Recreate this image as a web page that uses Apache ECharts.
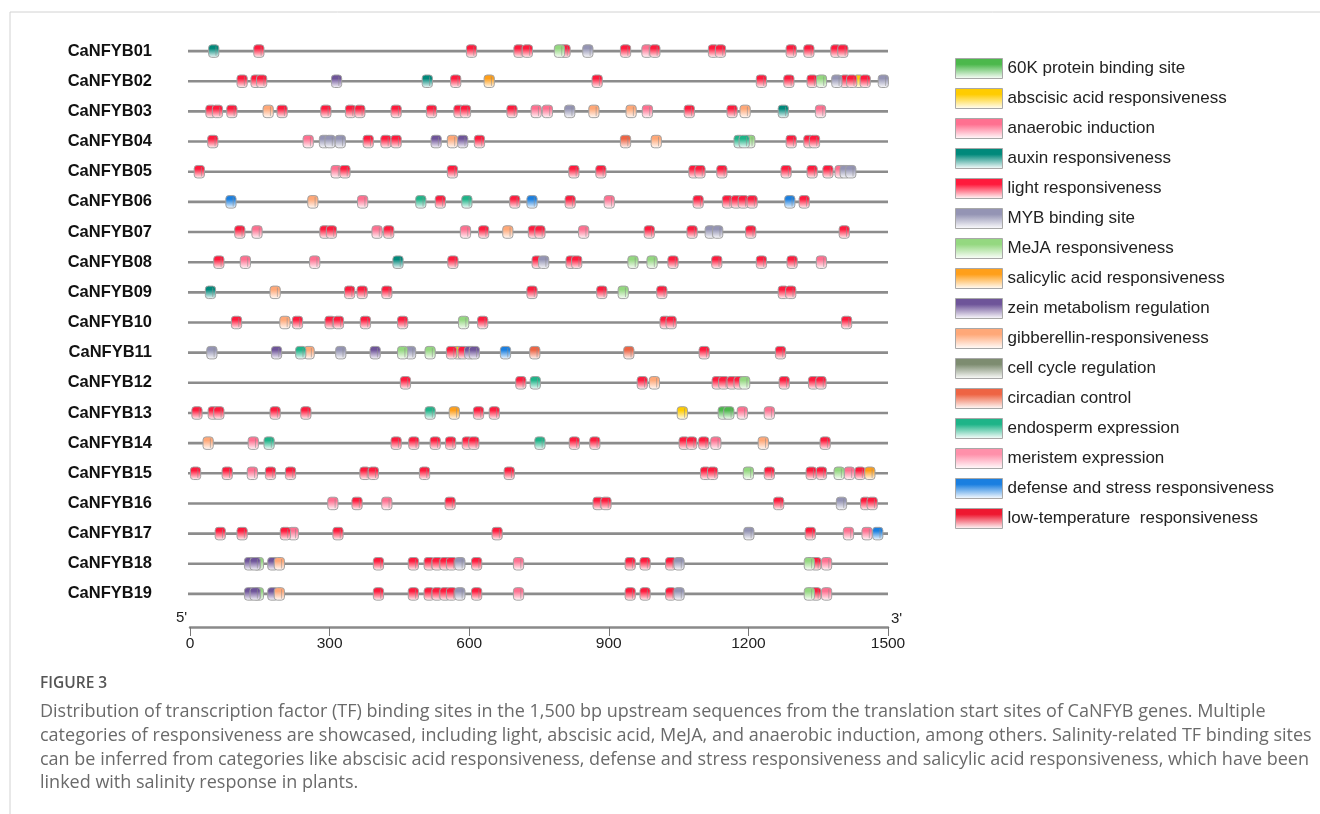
<!DOCTYPE html>
<html>
<head>
<meta charset="utf-8">
<script src="https://cdn.jsdelivr.net/npm/echarts@6/dist/echarts.min.js"></script>
<style>
html,body{margin:0;padding:0;background:#fff;}
#chart{width:1320px;height:814px;}
</style>
</head>
<body>
<div id="chart"></div>
<script>
// ---------- data ----------
const genes = ['CaNFYB01','CaNFYB02','CaNFYB03','CaNFYB04','CaNFYB05','CaNFYB06','CaNFYB07','CaNFYB08','CaNFYB09','CaNFYB10',
               'CaNFYB11','CaNFYB12','CaNFYB13','CaNFYB14','CaNFYB15','CaNFYB16','CaNFYB17','CaNFYB18','CaNFYB19'];
const xTicks = [0, 300, 600, 900, 1200, 1500];
const SEQ_LEN = 1500;

const catKeys  = ['K60','ABA','ANA','AUX','LIT','MYB','MEJ','SAL','ZEI','GA','CC','CIR','END','MER','DEF','LT'];
const catNames = ['60K protein binding site','abscisic acid responsiveness','anaerobic induction','auxin responsiveness',
                  'light responsiveness','MYB binding site','MeJA responsiveness','salicylic acid responsiveness',
                  'zein metabolism regulation','gibberellin-responsiveness','cell cycle regulation','circadian control',
                  'endosperm expression','meristem expression','defense and stress responsiveness','low-temperature  responsiveness'];
const catColors = ['#4cb84c','#ffcc00','#ff7090','#00897b','#ff1a3c','#9494b4','#94d880','#ff9f1a',
                   '#6e5499','#ffa878','#7d8c70','#ee6444','#1eb488','#ff90aa','#1a7fe0','#ee1830'];

// binding sites per gene: [position (bp), category]
const CaNFYB01 = [[51,'AUX'],[148,'LIT'],[605,'LIT'],[707,'LIT'],[725,'LIT'],[794,'MEJ'],[806,'LIT'],[855,'MYB'],[936,'LIT'],[982,'ANA'],[999,'LIT'],[1125,'LIT'],[1140,'LIT'],[1292,'LIT'],[1330,'LIT'],[1388,'LIT'],[1403,'LIT']];
const CaNFYB02 = [[112,'LIT'],[142,'LIT'],[154,'LIT'],[315,'ZEI'],[510,'AUX'],[571,'LIT'],[643,'SAL'],[875,'LIT'],[1228,'LIT'],[1287,'LIT'],[1337,'LIT'],[1357,'MEJ'],[1390,'MYB'],[1408,'LIT'],[1422,'LIT'],[1437,'ABA'],[1451,'LIT'],[1490,'MYB']];
const CaNFYB03 = [[45,'LIT'],[59,'LIT'],[90,'LIT'],[168,'GA'],[198,'LIT'],[292,'LIT'],[345,'LIT'],[365,'LIT'],[443,'LIT'],[519,'LIT'],[578,'LIT'],[592,'LIT'],[692,'LIT'],[744,'ANA'],[768,'ANA'],[816,'MYB'],[868,'GA'],[948,'GA'],[983,'ANA'],[1073,'LIT'],[1165,'LIT'],[1193,'GA'],[1275,'AUX'],[1355,'ANA']];
const CaNFYB04 = [[49,'LIT'],[254,'ANA'],[289,'MYB'],[301,'MYB'],[323,'MYB'],[383,'LIT'],[421,'LIT'],[443,'LIT'],[529,'ZEI'],[564,'GA'],[586,'ZEI'],[622,'LIT'],[936,'CIR'],[1002,'GA'],[1180,'END'],[1191,'END'],[1203,'MEJ'],[1292,'LIT'],[1330,'LIT'],[1342,'LIT']];
const CaNFYB05 = [[20,'LIT'],[314,'ANA'],[333,'LIT'],[564,'LIT'],[825,'LIT'],[883,'LIT'],[1083,'LIT'],[1096,'LIT'],[1143,'LIT'],[1281,'LIT'],[1337,'LIT'],[1371,'LIT'],[1397,'ANA'],[1408,'MYB'],[1420,'MYB']];
const CaNFYB06 = [[88,'DEF'],[264,'GA'],[371,'ANA'],[496,'END'],[538,'LIT'],[595,'END'],[698,'LIT'],[735,'DEF'],[817,'LIT'],[901,'ANA'],[1092,'LIT'],[1155,'LIT'],[1174,'LIT'],[1189,'LIT'],[1208,'LIT'],[1289,'DEF'],[1320,'LIT']];
const CaNFYB07 = [[107,'LIT'],[144,'ANA'],[290,'LIT'],[304,'LIT'],[402,'ANA'],[427,'LIT'],[592,'ANA'],[631,'LIT'],[683,'GA'],[738,'LIT'],[752,'LIT'],[846,'ANA'],[987,'LIT'],[1079,'LIT'],[1118,'MYB'],[1134,'MYB'],[1205,'LIT'],[1406,'LIT']];
const CaNFYB08 = [[62,'LIT'],[119,'ANA'],[268,'ANA'],[447,'AUX'],[565,'LIT'],[746,'LIT'],[760,'MYB'],[819,'LIT'],[831,'LIT'],[952,'MEJ'],[993,'MEJ'],[1038,'LIT'],[1132,'LIT'],[1228,'LIT'],[1294,'LIT'],[1357,'ANA']];
const CaNFYB09 = [[44,'AUX'],[183,'GA'],[343,'LIT'],[370,'LIT'],[423,'LIT'],[735,'LIT'],[885,'LIT'],[931,'MEJ'],[1014,'LIT'],[1275,'LIT'],[1291,'LIT']];
const CaNFYB10 = [[100,'LIT'],[204,'GA'],[231,'LIT'],[301,'LIT'],[319,'LIT'],[377,'LIT'],[457,'LIT'],[588,'MEJ'],[629,'LIT'],[1021,'LIT'],[1034,'LIT'],[1411,'LIT']];
const CaNFYB11 = [[47,'MYB'],[186,'ZEI'],[238,'END'],[256,'GA'],[324,'MYB'],[398,'ZEI'],[457,'MEJ'],[474,'MYB'],[516,'MEJ'],[562,'LIT'],[576,'ABA'],[587,'LIT'],[601,'ZEI'],[611,'ZEI'],[678,'DEF'],[741,'CIR'],[943,'CIR'],[1105,'LIT'],[1269,'LIT']];
const CaNFYB12 = [[463,'LIT'],[711,'LIT'],[742,'END'],[972,'LIT'],[998,'GA'],[1133,'LIT'],[1147,'LIT'],[1165,'LIT'],[1180,'LIT'],[1192,'MEJ'],[1277,'LIT'],[1340,'LIT'],[1356,'LIT']];
const CaNFYB13 = [[15,'LIT'],[50,'LIT'],[62,'LIT'],[183,'LIT'],[249,'LIT'],[516,'END'],[568,'SAL'],[620,'LIT'],[654,'LIT'],[1058,'ABA'],[1146,'K60'],[1158,'K60'],[1187,'ANA'],[1245,'ANA']];
const CaNFYB14 = [[39,'GA'],[136,'ANA'],[170,'END'],[443,'LIT'],[481,'LIT'],[527,'LIT'],[560,'LIT'],[596,'LIT'],[610,'LIT'],[752,'END'],[826,'LIT'],[870,'LIT'],[1062,'LIT'],[1078,'LIT'],[1104,'LIT'],[1130,'ANA'],[1232,'GA'],[1365,'LIT']];
const CaNFYB15 = [[12,'LIT'],[80,'LIT'],[134,'ANA'],[173,'LIT'],[216,'LIT'],[376,'LIT'],[394,'LIT'],[504,'LIT'],[686,'LIT'],[1108,'LIT'],[1123,'LIT'],[1200,'MEJ'],[1245,'LIT'],[1335,'LIT'],[1357,'LIT'],[1395,'MEJ'],[1417,'ANA'],[1440,'LIT'],[1461,'SAL']];
const CaNFYB16 = [[307,'ANA'],[359,'LIT'],[423,'ANA'],[559,'LIT'],[877,'LIT'],[894,'LIT'],[1265,'LIT'],[1400,'MYB'],[1452,'LIT'],[1466,'LIT']];
const CaNFYB17 = [[65,'LIT'],[112,'LIT'],[205,'LIT'],[222,'ANA'],[318,'LIT'],[660,'LIT'],[1201,'MYB'],[1333,'LIT'],[1415,'ANA'],[1455,'ANA'],[1478,'DEF']];
const CaNFYB18 = [[128,'ZEI'],[140,'ZEI'],[147,'MEJ'],[178,'ZEI'],[192,'GA'],[405,'LIT'],[480,'LIT'],[514,'LIT'],[531,'LIT'],[548,'LIT'],[562,'LIT'],[580,'MYB'],[616,'LIT'],[706,'ANA'],[946,'LIT'],[978,'LIT'],[1033,'LIT'],[1051,'MYB'],[1331,'MEJ'],[1345,'LIT'],[1368,'ANA']];
const CaNFYB19 = [[128,'ZEI'],[140,'ZEI'],[147,'MEJ'],[178,'ZEI'],[192,'GA'],[405,'LIT'],[480,'LIT'],[514,'LIT'],[531,'LIT'],[548,'LIT'],[562,'LIT'],[580,'MYB'],[616,'LIT'],[706,'ANA'],[946,'LIT'],[978,'LIT'],[1033,'LIT'],[1051,'MYB'],[1331,'MEJ'],[1345,'LIT'],[1368,'ANA']];

const geneSites = [CaNFYB01,CaNFYB02,CaNFYB03,CaNFYB04,CaNFYB05,CaNFYB06,CaNFYB07,CaNFYB08,CaNFYB09,CaNFYB10,
                   CaNFYB11,CaNFYB12,CaNFYB13,CaNFYB14,CaNFYB15,CaNFYB16,CaNFYB17,CaNFYB18,CaNFYB19];

const captionTitle = 'FIGURE 3';
const captionLines = [
 'Distribution of transcription factor (TF) binding sites in the 1,500 bp upstream sequences from the translation start sites of CaNFYB genes. Multiple',
 'categories of responsiveness are showcased, including light, abscisic acid, MeJA, and anaerobic induction, among others. Salinity-related TF binding sites',
 'can be inferred from categories like abscisic acid responsiveness, defense and stress responsiveness and salicylic acid responsiveness, which have been',
 'linked with salinity response in plants.'
];

// ---------- chart ----------
const MOTIF_BP = 22;
const MOTIF_H = 12.5;

function gradStops(c){ return [{offset:0,color:c},{offset:0.3,color:c},{offset:1,color:'#ffffff'}]; }

function motifRender(color){
  const fill = {type:'linear',x:0,y:0,x2:0,y2:1,colorStops:gradStops(color)};
  return function(params, api){
    const c = api.coord([api.value(0), api.value(1)]);
    const w = api.size([MOTIF_BP, 0])[0];
    const x = c[0]-w/2, y = c[1]-MOTIF_H/2;
    return {type:'group', children:[
      {type:'rect', shape:{x:x,y:y,width:w,height:MOTIF_H,r:3}, style:{fill:fill, stroke:'#a2a2a2', lineWidth:1}},
      {type:'line', shape:{x1:x+w*0.72,y1:y+1.5,x2:x+w*0.72,y2:y+MOTIF_H-1.5}, style:{stroke:'rgba(140,140,140,0.55)', lineWidth:1}}
    ]};
  };
}

const series = [{
  type:'custom', name:'backbone', silent:true,
  data: genes.map((g,i)=>[0, i, SEQ_LEN]),
  encode:{x:[0,2], y:1},
  renderItem:function(params, api){
    const a = api.coord([api.value(0), api.value(1)]);
    const b = api.coord([api.value(2), api.value(1)]);
    return {type:'line', shape:{x1:a[0]-2,y1:a[1],x2:b[0],y2:b[1]}, style:{stroke:'#8c8c8c', lineWidth:2.6}};
  }
}];

catKeys.forEach((k, ci)=>{
  const data = [];
  geneSites.forEach((sites, gi)=>{ sites.forEach(s=>{ if(s[1]===k) data.push([s[0], gi]); }); });
  series.push({
    type:'custom', name:catNames[ci],
    data:data, encode:{x:0, y:1},
    itemStyle:{color:new echarts.graphic.LinearGradient(0,0,0,1,gradStops(catColors[ci]))},
    renderItem:motifRender(catColors[ci])
  });
});

const chart = echarts.init(document.getElementById('chart'));
chart.setOption({
  animation:false,
  backgroundColor:'#ffffff',
  grid:{left:190, right:432, top:36, bottom:205},
  xAxis:{
    type:'value', min:xTicks[0], max:xTicks[xTicks.length-1], interval:300,
    position:'bottom', offset:18,
    axisLine:{show:true, lineStyle:{color:'#8a8a8a', width:2.5}},
    axisTick:{show:true, length:9, lineStyle:{color:'#777', width:1}},
    axisLabel:{fontSize:15.5, color:'#222', fontFamily:'Liberation Sans', margin:9, formatter:function(v){return String(v);}},
    splitLine:{show:false}
  },
  yAxis:{
    type:'category', data:genes, inverse:true,
    axisLine:{show:false}, axisTick:{show:false}, splitLine:{show:false},
    axisLabel:{fontSize:16.5, fontWeight:'bold', color:'#111', fontFamily:'Liberation Sans', margin:38}
  },
  legend:{
    data:catNames, orient:'vertical', left:950, top:53,
    itemWidth:47, itemHeight:20, itemGap:9, icon:'rect', selectedMode:false,
    itemStyle:{borderColor:'#a8a8a8', borderWidth:1},
    textStyle:{fontSize:17, color:'#222', fontFamily:'Liberation Sans'}
  },
  graphic:[
    {type:'line', shape:{x1:10,y1:12,x2:1320,y2:12}, style:{stroke:'#d2d2d2', lineWidth:1}},
    {type:'line', shape:{x1:10,y1:12,x2:10,y2:814}, style:{stroke:'#d2d2d2', lineWidth:1}},
    {type:'text', left:176, top:610, style:{text:"5'", fontSize:15, fill:'#222', fontFamily:'Liberation Sans'}},
    {type:'text', left:891, top:611, style:{text:"3'", fontSize:15, fill:'#222', fontFamily:'Liberation Sans'}},
    {type:'text', left:40, top:676, style:{text:captionTitle, fontSize:15.5, fontWeight:600, fill:'#555', fontFamily:'Open Sans'}},
    {type:'text', left:40, top:700, style:{text:captionLines.join('\n'), fontSize:18, lineHeight:23.8, fill:'#6a6a6a', fontFamily:'Open Sans'}}
  ],
  series:series
});
</script>
</body>
</html>
